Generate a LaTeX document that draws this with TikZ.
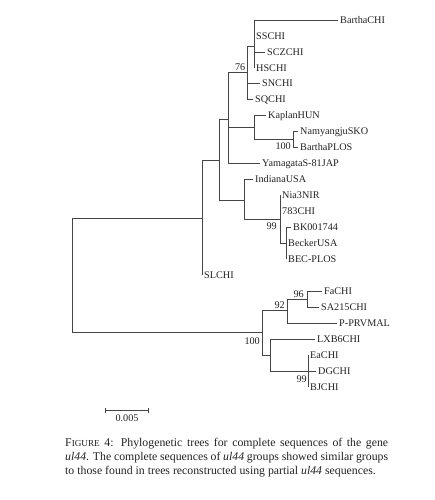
\documentclass[tikz,border=0pt]{standalone}
\usepackage{fontspec}
\setmainfont{Liberation Serif}
\usetikzlibrary{arrows.meta,positioning}

\definecolor{treeline}{HTML}{454545}
\definecolor{labeltext}{HTML}{222222}

\begin{document}
\begin{tikzpicture}[x=1pt, y=-1pt, every node/.style={font=\fontsize{10.2}{12}\selectfont, text=labeltext}]
\tikzstyle{leaf}=[anchor=west, inner xsep=2pt, inner ysep=0pt, text height=6.6pt, text depth=0pt]
\tikzstyle{boot}=[inner sep=0pt]
\tikzstyle{branch}=[draw=treeline, line width=0.8pt]
\useasboundingbox (0,0) rectangle (435,500);

% internal nodes of the tree
\coordinate (root) at (72,275);
\coordinate (up) at (202,218);
\coordinate (nC) at (219,160);
\coordinate (nB) at (228,119);
\coordinate (n76) at (247,72);
\coordinate (nA) at (254,46);
\coordinate (nK) at (254,127);
\coordinate (nN) at (293,139);
\coordinate (nD) at (244,200);
\coordinate (nE) at (280,219);
\coordinate (nF) at (286,243);
\coordinate (nG) at (262,332);
\coordinate (nH) at (287,310);
\coordinate (nJ) at (307,299);
\coordinate (nI) at (270,355);
\coordinate (nL) at (308,371);

% taxa
\node[leaf] (barthachi) at (338,20) {BarthaCHI};
\node[leaf] (sschi) at (254,36) {SSCHI};
\node[leaf] (sczchi) at (265,52) {SCZCHI};
\node[leaf] (hschi) at (254,68) {HSCHI};
\node[leaf] (snchi) at (260,83) {SNCHI};
\node[leaf] (sqchi) at (253,99) {SQCHI};
\node[leaf] (kaplan) at (266,115) {KaplanHUN};
\node[leaf] (namyangju) at (298,131) {NamyangjuSKO};
\node[leaf] (barthaplos) at (298,147) {BarthaPLOS};
\node[leaf] (yamagata) at (260,163) {YamagataS-81JAP};
\node[leaf] (indiana) at (253,179) {IndianaUSA};
\node[leaf] (nia) at (280,195) {Nia3NIR};
\node[leaf] (chi783) at (280,211) {783CHI};
\node[leaf] (bk) at (291,227) {BK001744};
\node[leaf] (becker) at (286,243) {BeckerUSA};
\node[leaf] (becplos) at (286,259) {BEC-PLOS};
\node[leaf] (slchi) at (202,275) {SLCHI};
\node[leaf] (fachi) at (322,291) {FaCHI};
\node[leaf] (sa215) at (319,307) {SA215CHI};
\node[leaf] (prvmal) at (337,323) {P-PRVMAL};
\node[leaf] (lxb6) at (315,339) {LXB6CHI};
\node[leaf] (eachi) at (308,355) {EaCHI};
\node[leaf] (dgchi) at (316,371) {DGCHI};
\node[leaf] (bjchi) at (308,387) {BJCHI};

% branches
\draw[branch] (root) |- (up);
\draw[branch] (root) |- (nG);
\draw[branch] (up) |- (nC);
\draw[branch] (up) |- (slchi.west);
\draw[branch] (nC) |- (nB);
\draw[branch] (nC) |- (nD);
\draw[branch] (nB) |- (n76);
\draw[branch] (nB) |- (nK);
\draw[branch] (nB) |- (yamagata.west);
\draw[branch] (n76) |- (nA);
\draw[branch] (n76) |- (snchi.west);
\draw[branch] (n76) |- (sqchi.west);
\draw[branch] (nA) |- (barthachi.west);
\draw[branch] (nA) |- (sschi.west);
\draw[branch] (nA) |- (sczchi.west);
\draw[branch] (nA) |- (hschi.west);
\draw[branch] (nK) |- (kaplan.west);
\draw[branch] (nK) |- (nN);
\draw[branch] (nN) |- (namyangju.west);
\draw[branch] (nN) |- (barthaplos.west);
\draw[branch] (nD) |- (indiana.west);
\draw[branch] (nD) |- (nE);
\draw[branch] (nE) |- (nia.west);
\draw[branch] (nE) |- (chi783.west);
\draw[branch] (nE) |- (nF);
\draw[branch] (nF) |- (bk.west);
\draw[branch] (nF) |- (becker.west);
\draw[branch] (nF) |- (becplos.west);
\draw[branch] (nG) |- (nH);
\draw[branch] (nG) |- (nI);
\draw[branch] (nH) |- (nJ);
\draw[branch] (nH) |- (prvmal.west);
\draw[branch] (nJ) |- (fachi.west);
\draw[branch] (nJ) |- (sa215.west);
\draw[branch] (nI) |- (lxb6.west);
\draw[branch] (nI) |- (nL);
\draw[branch] (nL) |- (eachi.west);
\draw[branch] (nL) |- (dgchi.west);
\draw[branch] (nL) |- (bjchi.west);

% bootstrap values
\node[boot, above left=1pt and 1.5pt of n76] (b76) {76};
\node[boot, below left=4pt and 2pt of nN] (b100a) {100};
\node[boot, below left=4pt and 3pt of nE] (b99a) {99};
\node[boot, above left=1pt and 2pt of nH] (b92) {92};
\node[boot, above left=1.5pt and 3pt of nJ] (b96) {96};
\node[boot, below left=6pt and 2pt of nG] (b100b) {100};
\node[boot, below left=5pt and 1pt of nL] (b99b) {99};

% scale bar
\coordinate (sbl) at (105,410);
\coordinate (sbr) at (149,410);
\draw[branch, {Bar[width=5pt]}-{Bar[width=5pt]}] (sbl) -- (sbr) coordinate[midway] (sbmid);
\node[boot, below=5pt of sbmid] (sblabel) {0.005};

% caption
\node[anchor=north west, text width=323pt, align=justify, inner sep=0pt, font=\fontsize{11.8}{14}\selectfont] (caption) at (65,438)
  {F{\fontsize{9.2}{14}\selectfont IGURE} 4: Phylogenetic trees for complete sequences of the gene\linebreak
   \textit{ul44}. The complete sequences of \textit{ul44} groups showed similar groups\linebreak
   to those found in trees reconstructed using partial \textit{ul44} sequences.};
\end{tikzpicture}
\end{document}
